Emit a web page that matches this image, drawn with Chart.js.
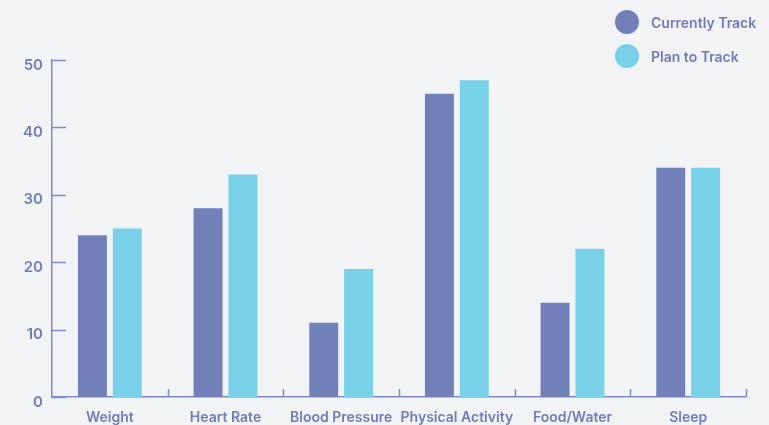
<!DOCTYPE html>
<html>
<head>
<meta charset="utf-8">
<script src="https://cdn.jsdelivr.net/npm/chart.js@4"></script>
<style>
  html, body { margin: 0; padding: 0; background: #f2f3f5; }
  #wrap { position: relative; width: 769px; height: 425px; overflow: hidden; }
  #legend { position: absolute; left: 615px; top: 10px; font-family: Inter, "Noto Sans", sans-serif; font-weight: 600; font-size: 14px; color: #6f7db8; }
  .item { display: flex; align-items: center; height: 24px; margin-bottom: 10px; }
  .dot { width: 24px; height: 24px; border-radius: 50%; margin-right: 12px; }
</style>
</head>
<body>
<div id="wrap">
  <canvas id="chart" width="769" height="425"></canvas>
  <div id="legend"></div>
</div>
<script>
// tracking survey: what people track now vs. what they plan to track
const categories = ["Weight", "Heart Rate", "Blood Pressure", "Physical Activity", "Food/Water", "Sleep"];
const currentlyTrack = [24, 28, 11, 45, 14, 34];
const planToTrack = [25, 33, 19, 47, 22, 34];
const yTicks = [0, 10, 20, 30, 40, 50];

const PURPLE = "#7180b9";
const CYAN = "#78d1e8";
const AXIS = "#7e8cc4";
const TEXT = "#6f7db8";
const FONT = "Inter, 'Noto Sans', sans-serif";

const seriesList = [
  { label: "Currently Track", data: currentlyTrack, color: PURPLE },
  { label: "Plan to Track", data: planToTrack, color: CYAN }
];

// html legend, round swatches
const legendEl = document.getElementById("legend");
seriesList.forEach(s => {
  const row = document.createElement("div");
  row.className = "item";
  row.innerHTML = `<span class="dot" style="background:${s.color}"></span><span>${s.label}</span>`;
  legendEl.append(row);
});

// small inward tick marks on both axes
const axisTicks = {
  id: "axisTicks",
  afterDraw(chart) {
    const { ctx, chartArea, scales } = chart;
    ctx.save();
    ctx.strokeStyle = AXIS;
    ctx.lineWidth = 1.5;
    yTicks.forEach(v => {
      const y = Math.round(scales.y.getPixelForValue(v)) + 0.5;
      ctx.beginPath();
      ctx.moveTo(chartArea.left, y);
      ctx.lineTo(chartArea.left + 14, y);
      ctx.stroke();
    });
    for (let i = 1; i <= categories.length; i++) {
      const x = Math.round(scales.x.getPixelForValue(i - 0.5)) + 0.5;
      ctx.beginPath();
      ctx.moveTo(x, chartArea.bottom);
      ctx.lineTo(x, chartArea.bottom - 8);
      ctx.stroke();
    }
    ctx.restore();
  }
};

new Chart(document.getElementById("chart"), {
  type: "bar",
  data: {
    labels: categories,
    datasets: seriesList.map(s => ({
      label: s.label,
      data: s.data,
      backgroundColor: s.color,
      categoryPercentage: 0.603,
      barPercentage: 0.83
    }))
  },
  options: {
    responsive: false,
    animation: false,
    layout: { padding: { top: 60, right: 23, left: 0, bottom: 0 } },
    plugins: { legend: { display: false }, tooltip: { enabled: false } },
    scales: {
      x: {
        grid: { display: false, drawTicks: false },
        border: { display: true, color: AXIS, width: 1.5 },
        ticks: {
          color: TEXT,
          padding: 12,
          maxRotation: 0,
          autoSkip: false,
          font: { family: FONT, size: 14, weight: 600 }
        },
        afterFit: s => { s.height = 28; }
      },
      y: {
        min: 0,
        max: 50,
        grid: { display: false, drawTicks: false },
        border: { display: true, color: AXIS, width: 1.5 },
        afterBuildTicks: s => { s.ticks = yTicks.map(v => ({ value: v })); },
        ticks: {
          color: TEXT,
          padding: 9,
          labelOffset: 5,
          font: { family: FONT, size: 15, weight: 600 }
        },
        afterFit: s => { s.width = 52; }
      }
    }
  },
  plugins: [axisTicks]
});
</script>
</body>
</html>
